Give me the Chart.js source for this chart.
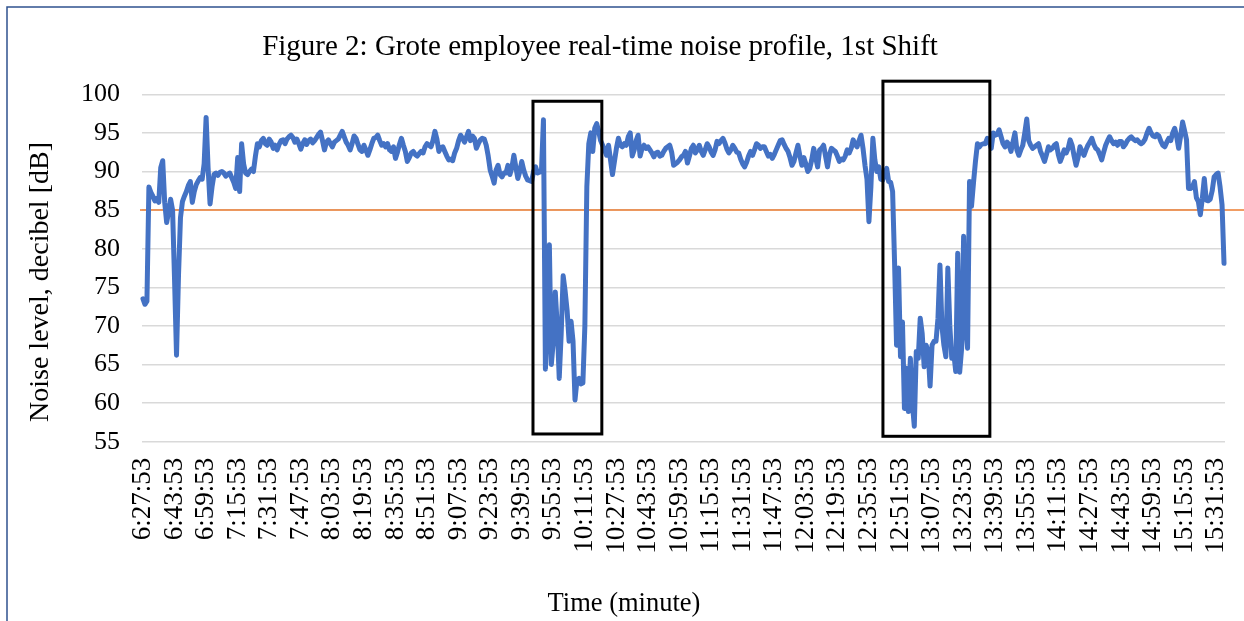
<!DOCTYPE html>
<html>
<head>
<meta charset="utf-8">
<title>Grote employee real-time noise profile</title>
<script src="https://cdn.jsdelivr.net/npm/chart.js@4.4.1/dist/chart.umd.min.js"></script>
<style>
  html, body { margin: 0; padding: 0; background: #fff; }
  canvas { display: block; }
</style>
</head>
<body>
<canvas id="noise-chart" width="1244" height="621"></canvas>
<script>
// one reading per minute, first one at 6:27:53
var startTime = '6:27:53';

var tickLabels = ['6:27:53', '6:43:53', '6:59:53', '7:15:53', '7:31:53', '7:47:53', '8:03:53', '8:19:53',
	'8:35:53', '8:51:53', '9:07:53', '9:23:53', '9:39:53', '9:55:53', '10:11:53', '10:27:53', '10:43:53',
	'10:59:53', '11:15:53', '11:31:53', '11:47:53', '12:03:53', '12:19:53', '12:35:53', '12:51:53',
	'13:07:53', '13:23:53', '13:39:53', '13:55:53', '14:11:53', '14:27:53', '14:43:53', '14:59:53',
	'15:15:53', '15:31:53'];

// noise level in dB, one row per 16 minutes
var noiseLevel = [
	73.5, 72.8, 73.2, 88.0, 87.3, 86.8, 86.2, 86.5, 86.0, 90.5, 91.4, 86.0, 83.4, 84.8, 86.4, 85.0,
	76.0, 66.2, 76.5, 84.0, 86.1, 86.8, 87.4, 88.2, 88.7, 86.0, 87.4, 88.3, 88.8, 89.2, 89.0, 91.0,
	97.0, 90.5, 85.8, 88.0, 89.6, 89.8, 89.5, 89.9, 90.0, 89.8, 89.4, 89.6, 89.8, 89.2, 88.6, 87.8,
	91.8, 87.4, 93.6, 91.0, 89.8, 89.6, 90.0, 90.3, 90.0, 92.0, 93.6, 93.2, 94.0, 94.3, 93.6, 93.4,
	94.2, 93.8, 93.0, 93.4, 92.8, 93.5, 94.0, 94.1, 93.6, 94.2, 94.5, 94.7, 94.4, 93.8, 94.2, 93.6,
	92.9, 93.6, 94.1, 93.5, 94.0, 94.2, 93.7, 94.0, 94.4, 94.8, 95.1, 94.0, 92.8, 93.8, 94.1, 93.6,
	93.2, 93.8, 94.0, 94.2, 94.7, 95.2, 94.5, 93.8, 93.4, 92.8, 93.6, 94.6, 94.3, 93.5, 92.8, 92.6,
	93.4, 92.8, 92.1, 92.8, 93.6, 94.3, 94.4, 94.7, 94.0, 93.4, 93.6, 93.2, 93.6, 92.8, 92.6, 93.2,
	91.7, 92.5, 93.5, 94.3, 93.4, 92.6, 91.3, 91.8, 92.4, 92.6, 92.2, 92.0, 92.3, 92.6, 92.4, 93.2,
	93.6, 93.4, 93.2, 94.0, 95.2, 94.2, 92.6, 93.1, 93.2, 92.6, 92.0, 91.5, 91.6, 91.4, 92.4, 93.0,
	94.0, 94.7, 94.3, 93.8, 94.5, 95.2, 94.0, 94.6, 94.3, 93.0, 93.6, 94.1, 94.3, 94.2, 93.4, 92.0,
	90.2, 89.4, 88.5, 90.2, 90.8, 89.6, 89.3, 89.8, 89.8, 90.8, 89.6, 90.5, 92.1, 90.6, 89.1, 90.0,
	91.3, 90.2, 89.4, 88.9, 88.8, 88.7, 90.0, 90.6, 89.8, 89.9, 90.0, 96.7, 64.4, 70.0, 80.5, 65.0,
	68.0, 74.4, 70.0, 63.2, 69.0, 76.5, 74.5, 72.0, 68.0, 70.6, 68.0, 60.4, 63.0, 63.2, 62.5, 62.6,
	70.0, 88.0, 93.6, 95.0, 92.6, 95.6, 96.2, 95.2, 94.0, 93.4, 92.8, 92.1, 93.4, 91.5, 89.6, 91.3,
	93.0, 94.3, 93.4, 93.2, 93.6, 93.4, 94.5, 95.0, 92.0, 92.8, 94.0, 94.7, 92.0, 93.0, 93.4, 93.0,
	93.2, 92.8, 92.4, 91.9, 92.4, 92.5, 92.0, 92.1, 92.6, 93.0, 93.2, 93.4, 92.5, 90.8, 91.0, 91.2,
	91.5, 91.9, 92.1, 92.6, 91.1, 92.0, 93.0, 93.4, 92.4, 92.8, 93.4, 92.6, 92.1, 92.8, 93.6, 93.2,
	92.5, 92.1, 92.8, 93.9, 93.6, 94.0, 94.3, 93.7, 92.9, 92.4, 92.8, 93.4, 93.0, 92.5, 92.4, 91.6,
	91.0, 90.6, 91.2, 92.0, 92.6, 92.1, 92.8, 93.6, 93.4, 93.0, 93.2, 93.2, 92.6, 92.0, 92.2, 91.7,
	92.2, 92.8, 93.4, 94.0, 94.1, 93.5, 93.0, 92.6, 91.8, 90.8, 91.3, 92.4, 93.4, 92.0, 90.8, 91.8,
	91.0, 90.0, 90.4, 91.5, 93.0, 91.8, 90.6, 92.8, 93.0, 93.4, 92.0, 90.6, 92.2, 93.0, 92.8, 92.6,
	92.0, 91.3, 91.6, 91.5, 92.0, 92.8, 92.4, 93.0, 94.1, 93.5, 93.2, 94.0, 94.7, 93.0, 90.8, 89.0,
	83.5, 88.0, 94.3, 91.5, 90.0, 90.6, 89.0, 88.9, 89.6, 90.4, 88.7, 88.6, 87.4, 78.2, 67.5, 77.5,
	66.0, 70.5, 59.3, 64.5, 58.9, 65.8, 60.0, 57.0, 66.7, 65.8, 71.0, 69.0, 64.7, 67.5, 66.7, 62.2,
	67.5, 68.0, 68.0, 71.0, 77.9, 70.0, 67.5, 66.0, 77.5, 70.0, 65.8, 66.5, 64.1, 79.4, 64.0, 67.1,
	81.6, 70.0, 67.1, 88.7, 85.5, 88.5, 91.3, 93.6, 93.2, 93.5, 93.6, 93.6, 94.3, 94.0, 93.0, 95.0,
	94.7, 94.8, 95.4, 94.5, 93.6, 93.2, 93.8, 93.5, 92.6, 93.8, 95.0, 92.8, 92.1, 92.8, 93.4, 95.0,
	96.8, 94.0, 93.4, 93.0, 93.2, 93.4, 93.6, 92.6, 92.0, 91.3, 92.2, 93.2, 92.8, 93.0, 93.4, 93.6,
	92.2, 91.3, 92.0, 92.8, 92.4, 93.0, 94.1, 93.4, 92.0, 90.8, 91.8, 93.2, 92.6, 92.1, 92.8, 93.4,
	93.8, 94.3, 93.5, 93.0, 92.8, 92.2, 91.5, 92.5, 93.4, 94.0, 94.5, 94.0, 93.6, 93.8, 93.4, 93.9,
	93.9, 93.2, 93.5, 94.0, 94.3, 94.5, 94.2, 94.0, 94.1, 93.8, 93.6, 93.8, 94.2, 95.0, 95.6, 95.0,
	94.6, 94.5, 94.8, 94.6, 93.9, 93.4, 93.2, 93.8, 94.3, 94.0, 95.0, 95.6, 94.5, 93.0, 94.6, 96.4,
	95.3, 94.1, 87.8, 87.8, 88.0, 88.7, 86.6, 86.1, 84.4, 86.5, 89.1, 86.3, 86.2, 86.4, 87.5, 89.3,
	89.6, 89.8, 88.0, 85.7, 78.1
];

// 85 dB exposure limit
var limitLevel = 85;

// marked quiet periods (minute index from start, dB)
var quietPeriods = [
	{ from: 197.7, to: 232.6, low: 56.0, high: 99.1 },
	{ from: 375.1, to: 429.3, low: 55.7, high: 101.7 }
];

function getTimeLabels(start, count) {
	var parts = start.split(':');
	var first = parseInt(parts[0]) * 60 + parseInt(parts[1]);
	var labels = [];
	for (var i = 0; i < count; i++) {
		var t = first + i;
		var mm = t % 60;
		labels.push(Math.floor(t / 60) + ':' + (mm < 10 ? '0' : '') + mm + ':' + parts[2]);
	}
	return labels;
}

var serif = '"Liberation Serif", "Times New Roman", serif';

// white page with the frame lines on the left and top
var framePlugin = {
	id: 'frame',
	beforeDraw: function(chart) {
		var ctx = chart.ctx;
		ctx.save();
		ctx.fillStyle = '#ffffff';
		ctx.fillRect(0, 0, chart.width, chart.height);
		ctx.strokeStyle = '#2f528f';
		ctx.lineWidth = 1.5;
		ctx.beginPath();
		ctx.moveTo(7, chart.height + 5);
		ctx.lineTo(7, 7);
		ctx.lineTo(chart.width + 5, 7);
		ctx.stroke();
		ctx.restore();
	}
};

// orange 85 dB line, runs on to the right edge
var limitPlugin = {
	id: 'limitLine',
	beforeDatasetsDraw: function(chart) {
		var ctx = chart.ctx;
		var y = chart.scales.y.getPixelForValue(limitLevel);
		ctx.save();
		ctx.strokeStyle = '#ed7d31';
		ctx.lineWidth = 1.5;
		ctx.beginPath();
		ctx.moveTo(chart.chartArea.left - 2, y);
		ctx.lineTo(chart.width, y);
		ctx.stroke();
		ctx.restore();
	}
};

// black rectangles round the quiet periods
var boxPlugin = {
	id: 'quietBoxes',
	afterDatasetsDraw: function(chart) {
		var ctx = chart.ctx;
		var xs = chart.scales.x, ys = chart.scales.y;
		ctx.save();
		ctx.strokeStyle = '#000000';
		ctx.lineWidth = 3;
		quietPeriods.forEach(function(p) {
			var x1 = xs.getPixelForValue(p.from), x2 = xs.getPixelForValue(p.to);
			var y1 = ys.getPixelForValue(p.high), y2 = ys.getPixelForValue(p.low);
			ctx.strokeRect(x1, y1, x2 - x1, y2 - y1);
		});
		ctx.restore();
	}
};

// chart title and axis titles
var textPlugin = {
	id: 'titles',
	afterDraw: function(chart) {
		var ctx = chart.ctx;
		ctx.save();
		ctx.fillStyle = '#000000';
		ctx.textAlign = 'center';
		ctx.textBaseline = 'middle';
		ctx.font = '29px ' + serif;
		ctx.fillText('Figure 2: Grote employee real-time noise profile, 1st Shift', 600, 47);
		ctx.font = '26.5px ' + serif;
		ctx.fillText('Time (minute)', 624, 604);
		ctx.font = '28px ' + serif;
		ctx.translate(41, 282);
		ctx.rotate(-Math.PI / 2);
		ctx.fillText('Noise level, decibel [dB]', 0, 0);
		ctx.restore();
	}
};

function createLineChart() {
	var ctx = document.getElementById('noise-chart').getContext('2d');
	var labels = getTimeLabels(startTime, noiseLevel.length);

	var chart = new Chart(ctx, {
		type: 'line',
		data: {
			labels: labels,
			datasets: [{
				label: 'Noise level',
				data: noiseLevel,
				borderColor: '#4472c4',
				borderWidth: 5,
				borderJoinStyle: 'round',
				borderCapStyle: 'round',
				pointRadius: 0,
				tension: 0,
				fill: false
			}]
		},
		options: {
			responsive: false,
			animation: false,
			devicePixelRatio: 1,
			layout: { padding: { top: 94.3, right: 19, left: 0, bottom: 0 } },
			plugins: {
				legend: { display: false },
				tooltip: { enabled: false }
			},
			scales: {
				x: {
					offset: true,
					grid: { display: false, drawTicks: false },
					border: { display: false },
					ticks: {
						autoSkip: false,
						minRotation: 90,
						maxRotation: 90,
						padding: 16,
						color: '#000000',
						font: { family: serif, size: 27 },
						callback: function(value, index) {
							return index % 16 === 0 ? tickLabels[index / 16] : null;
						}
					},
					afterFit: function(scale) {
						// keep the plot area fixed, no room kept for the end labels
						scale.height = 179.3;
						scale.paddingLeft = 0;
						scale.paddingRight = 0;
					}
				},
				y: {
					min: 55,
					max: 100,
					grid: { color: '#d9d9d9', lineWidth: 1.5, drawTicks: false },
					border: { display: false },
					ticks: {
						stepSize: 5,
						padding: 22,
						color: '#000000',
						font: { family: serif, size: 26 }
					},
					afterFit: function(scale) {
						scale.width = 142;
						scale.paddingTop = 0;
						scale.paddingBottom = 0;
					}
				}
			}
		},
		plugins: [framePlugin, limitPlugin, boxPlugin, textPlugin]
	});
	return chart;
}

createLineChart();
</script>
</body>
</html>
